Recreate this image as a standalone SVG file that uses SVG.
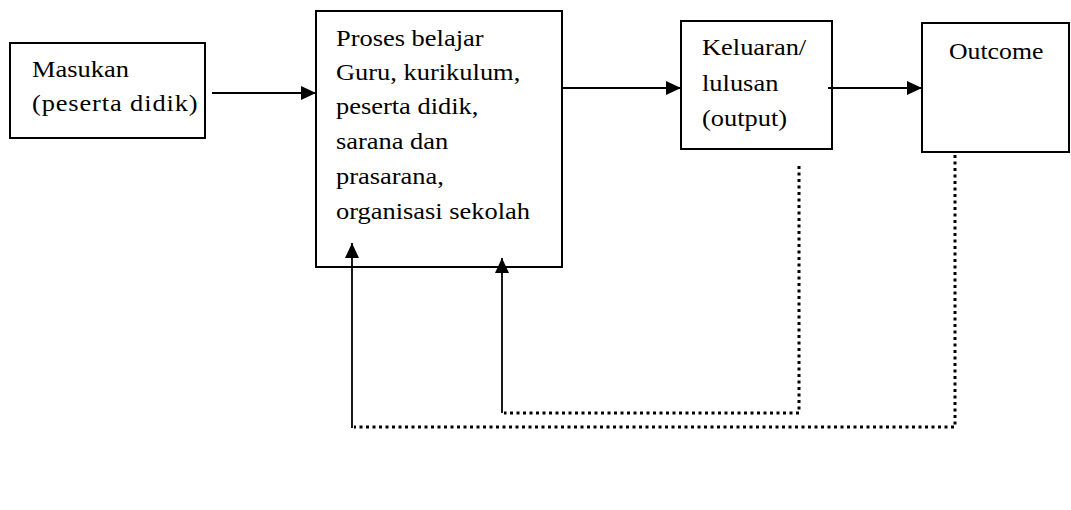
<svg xmlns="http://www.w3.org/2000/svg" width="1071" height="510" viewBox="0 0 1071 510">
  <style>
    .box { fill: #ffffff; stroke: #000000; stroke-width: 2; }
    .lbl { font-family: "Liberation Serif", "Times New Roman", serif; font-size: 23px; fill: #000000; }
    .link { fill: none; stroke: #000000; stroke-width: 1.8; }
    .dots { fill: none; stroke: #000000; stroke-width: 3; stroke-dasharray: 3 3.5; }
  </style>
  <defs>
    <marker id="head" markerUnits="userSpaceOnUse" markerWidth="16" markerHeight="16" refX="15" refY="7" orient="auto">
      <path d="M0,0 L15,7 L0,14 Z" fill="#000000"/>
    </marker>
  </defs>
  <rect width="1071" height="510" fill="#ffffff"/>

  <g id="masukan">
    <rect class="box" x="10" y="43" width="195" height="95"/>
    <text class="lbl" transform="translate(32,77) scale(1.15,1)">Masukan</text>
    <text class="lbl" transform="translate(32,111) scale(1.15,1)" textLength="144" lengthAdjust="spacing">(peserta didik)</text>
  </g>

  <g id="proses">
    <rect class="box" x="316" y="11" width="246" height="256"/>
    <text class="lbl" transform="translate(336,46) scale(1.15,1)">Proses belajar</text>
    <text class="lbl" transform="translate(336,80) scale(1.15,1)">Guru, kurikulum,</text>
    <text class="lbl" transform="translate(336,114) scale(1.15,1)">peserta didik,</text>
    <text class="lbl" transform="translate(336,149) scale(1.15,1)">sarana dan</text>
    <text class="lbl" transform="translate(336,184) scale(1.15,1)">prasarana,</text>
    <text class="lbl" transform="translate(336,219) scale(1.15,1)">organisasi sekolah</text>
  </g>

  <g id="keluaran">
    <rect class="box" x="681" y="21" width="151" height="128"/>
    <text class="lbl" transform="translate(702,55) scale(1.15,1)">Keluaran/</text>
    <text class="lbl" transform="translate(702,91) scale(1.15,1)">lulusan</text>
    <text class="lbl" transform="translate(702,126) scale(1.15,1)">(output)</text>
  </g>

  <g id="outcome">
    <rect class="box" x="922" y="23" width="147" height="129"/>
    <text class="lbl" transform="translate(949,59) scale(1.12,1)">Outcome</text>
  </g>

  <g id="connectors">
    <line class="link" x1="212" y1="93" x2="316" y2="93" marker-end="url(#head)"/>
    <line class="link" x1="562" y1="88" x2="681" y2="88" marker-end="url(#head)"/>
    <line class="link" x1="828" y1="88" x2="922" y2="88" marker-end="url(#head)"/>
    <!-- feedback from graduates back to the learning process -->
    <line class="link" x1="502" y1="413" x2="502" y2="258" marker-end="url(#head)"/>
    <polyline class="dots" points="799,166 799,413 504,413"/>
    <!-- feedback from outcome back to the learning process -->
    <line class="link" x1="352" y1="428" x2="352" y2="243" marker-end="url(#head)"/>
    <polyline class="dots" points="955,155 955,427 354,427"/>
  </g>
</svg>
